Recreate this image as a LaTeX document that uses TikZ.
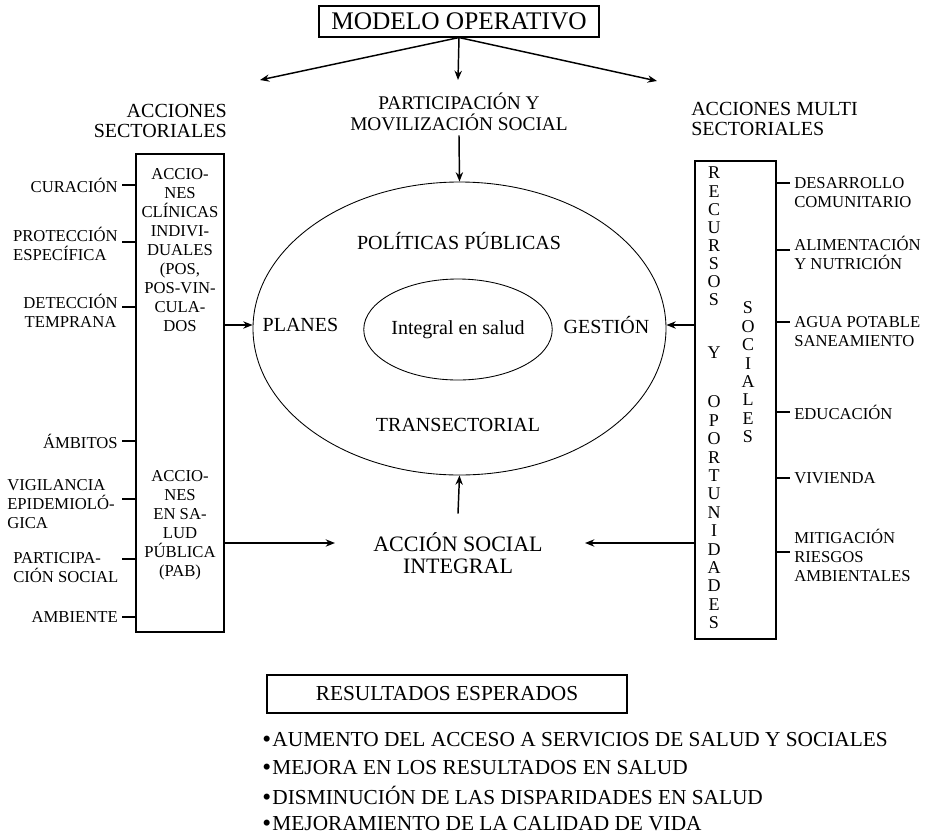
\documentclass[tikz,border=0pt]{standalone}
\usepackage{fontspec}
\setmainfont{Liberation Serif}
\usetikzlibrary{arrows.meta,shapes.geometric,calc}
\newcommand{\bul}{\raisebox{-0.8pt}{\fontsize{19}{19}\selectfont •}\hspace{1pt}}
\begin{document}
\begin{tikzpicture}[x=0.75pt,y=-0.75pt,
  arr/.style={line width=1.1pt,-{Stealth[length=7pt,width=5.5pt]}},
  tick/.style={line width=0.8pt},
  boxed/.style={draw,line width=0.8pt,inner sep=0pt},
  oval/.style={draw,ellipse,line width=0.65pt,inner sep=0pt},
  lbl/.style={font=\fontsize{12.5}{14.2}\selectfont,inner sep=0pt},
  mid/.style={font=\fontsize{15}{17}\selectfont,inner sep=0pt},
  head/.style={font=\fontsize{15}{14.5}\selectfont,inner sep=0pt},
  vl/.style={font=\fontsize{13.5}{14}\selectfont,inner sep=0pt},
  bl/.style={font=\fontsize{16}{18}\selectfont,inner sep=0pt,anchor=west}]
\useasboundingbox (0,0) rectangle (926,840);

% title and top arrows
\node[boxed,minimum width=210pt,minimum height=23.25pt,font=\fontsize{19}{22}\selectfont] (title) at (459,21.5) {MODELO OPERATIVO};
\coordinate (la) at (260,80);
\coordinate (ma) at (458,80);
\coordinate (ra) at (657,81);
\draw[arr] (title.south) -- (la);
\draw[arr] (title.south) -- (ma);
\draw[arr] (title.south) -- (ra);

\node[font=\fontsize{14.5}{15.5}\selectfont,align=center] (part) at (459,112) {PARTICIPACIÓN Y\\MOVILIZACIÓN SOCIAL};

% ellipses
\node[oval,minimum width=309.75pt,minimum height=219.75pt] (big) at (459.5,328.5) {};
\node[oval,minimum width=126pt,minimum height=75.75pt,font=\fontsize{15}{17}\selectfont] (inner) at (458,329.5) {Integral en salud};
\node[mid] (pol) at (459,241) {POLÍTICAS PÚBLICAS};
\node[mid] (planes) at (300.5,325) {PLANES};
\node[mid] (gest) at (606.5,325) {GESTIÓN};
\node[mid] (trans) at (458,425) {TRANSECTORIAL};
\draw[arr] (part.south) -- (big.north);

% headers
\node[head,align=right,anchor=east] (accsec) at (227,121) {ACCIONES\\SECTORIALES};
\node[head,align=left,anchor=west] (accmul) at (691,119) {ACCIONES MULTI\\SECTORIALES};

% left box
\node[boxed,minimum width=66pt,minimum height=358.5pt] (lbox) at (180,393) {};
\node[lbl,align=center] (clin) at (180,250) {ACCIO-\\NES\\CLÍNICAS\\INDIVI-\\DUALES\\(POS,\\POS-VIN-\\CULA-\\DOS};
\node[lbl,align=center] (pab) at (180,525) {ACCIO-\\NES\\EN SA-\\LUD\\PÚBLICA\\(PAB)};

\node[lbl,anchor=east] (cur) at (118,185) {CURACIÓN};
\node[lbl,anchor=east,align=left] (prot) at (118,244) {PROTECCIÓN\\ESPECÍFICA};
\node[lbl,anchor=east,align=center] (det) at (118,311) {DETECCIÓN\\TEMPRANA};
\node[lbl,anchor=east] (amb) at (118,441) {ÁMBITOS};
\node[lbl,anchor=west,align=left] (vig) at (7,504) {VIGILANCIA\\EPIDEMIOLÓ-\\GICA};
\node[lbl,anchor=west,align=left] (parsoc) at (13,568) {PARTICIPA-\\CIÓN SOCIAL};
\node[lbl,anchor=east] (ambi) at (118,617) {AMBIENTE};
\foreach \yy [count=\i] in {185,242,307,441,499,559,617} {
  \coordinate (lt\i) at (122,\yy);
  \draw[tick] (lt\i) -- (lt\i -| lbox.west);
}

% right box
\node[boxed,minimum width=60.75pt,minimum height=358.5pt] (rbox) at (735.5,400) {};
\foreach \l [count=\i from 0] in {R,E,C,U,R,S,O,S} \node[vl] (rc\i) at (714,173+18.1*\i) {\l};
\node[vl] (yy) at (714,353) {Y};
\foreach \l [count=\i from 0] in {O,P,O,R,T,U,N,I,D,A,D,E,S} \node[vl] (op\i) at (714,402+18.4*\i) {\l};
\foreach \l [count=\i from 0] in {S,O,C,I,A,L,E,S} \node[vl] (so\i) at (748,308+18.4*\i) {\l};

\node[lbl,anchor=west,align=left] (desa) at (794,192.5) {DESARROLLO\\COMUNITARIO};
\node[lbl,anchor=west,align=left] (alim) at (794,252.5) {ALIMENTACIÓN\\Y NUTRICIÓN};
\node[lbl,anchor=west,align=left] (agua) at (794,332) {AGUA POTABLE\\SANEAMIENTO};
\node[lbl,anchor=west] (educ) at (794,412) {EDUCACIÓN};
\node[lbl,anchor=west] (vivi) at (794,478) {VIVIENDA};
\node[lbl,anchor=west,align=left] (miti) at (794,555) {MITIGACIÓN\\RIESGOS\\AMBIENTALES};
\foreach \yy [count=\i] in {183,250,322,412,478,552} {
  \coordinate (rt\i) at (790,\yy);
  \draw[tick] (rbox.east |- rt\i) -- (rt\i);
}

% accion social integral
\node[font=\fontsize{16.5}{16.5}\selectfont,align=center,inner xsep=2pt,inner ysep=14pt] (acc) at (458,553) {ACCIÓN SOCIAL\\INTEGRAL};
\coordinate (accL) at (335,543);
\coordinate (accR) at (585,543);

% arrows
\draw[arr] (lbox.east |- planes) -- (big.west |- planes);
\draw[arr] (rbox.west |- gest) -- (big.east |- gest);
\draw[arr] (lbox.east |- accL) -- (accL);
\draw[arr] (rbox.west |- accR) -- (accR);
\draw[arr] (acc.north) -- (big.south);

% results
\node[boxed,minimum width=270pt,minimum height=28.5pt,font=\fontsize{16}{18}\selectfont] (res) at (447,694) {RESULTADOS ESPERADOS};
\node[bl] (b1) at (262,740) {\bul AUMENTO DEL ACCESO A SERVICIOS DE SALUD Y SOCIALES};
\node[bl] (b2) at (262,767.5) {\bul MEJORA EN LOS RESULTADOS EN SALUD};
\node[bl] (b3) at (262,795.5) {\bul DISMINUCIÓN DE LAS DISPARIDADES EN SALUD};
\node[bl] (b4) at (262,823.5) {\bul MEJORAMIENTO DE LA CALIDAD DE VIDA};
\end{tikzpicture}
\end{document}
